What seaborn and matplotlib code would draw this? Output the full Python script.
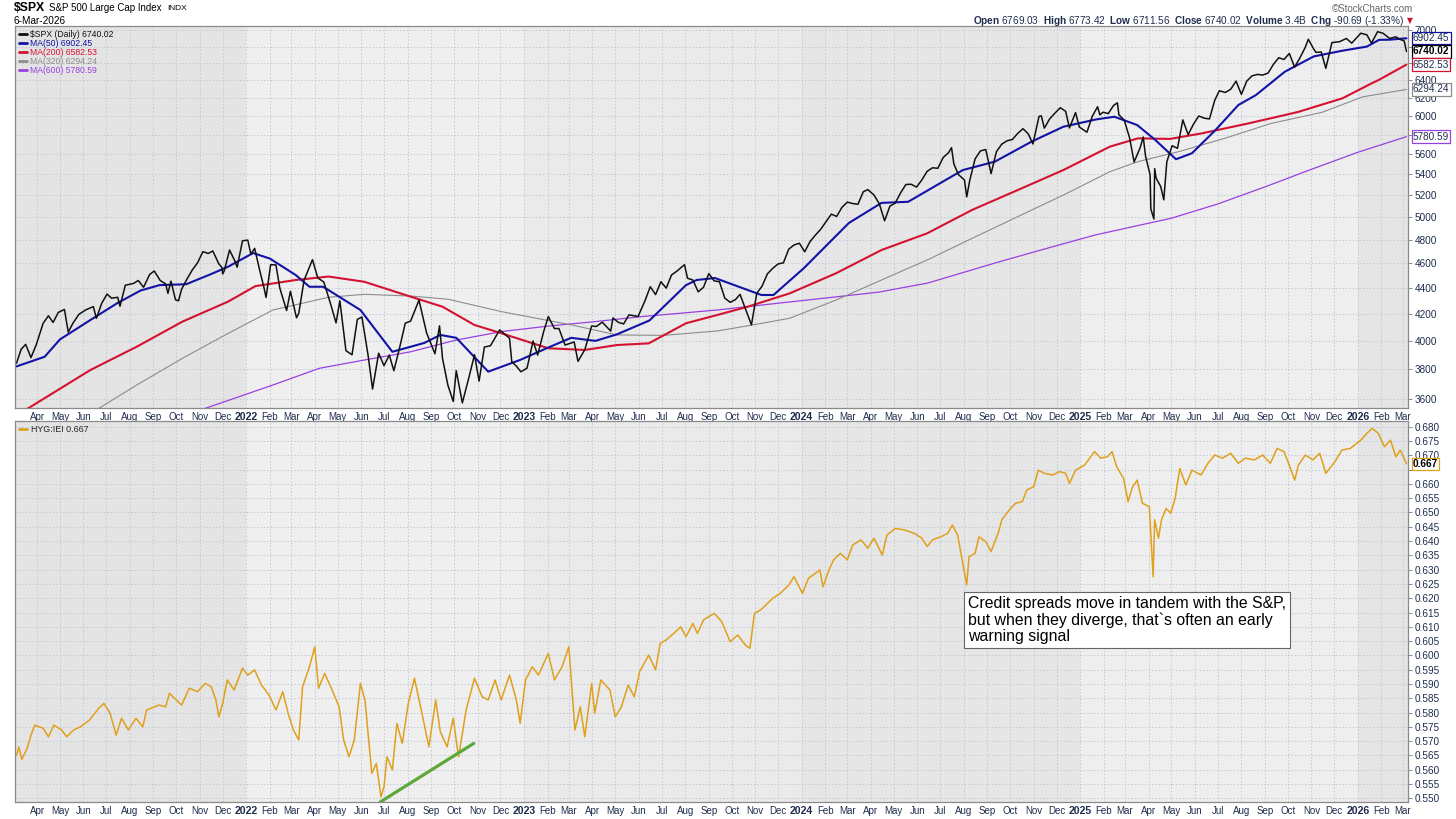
import pandas as pd
import seaborn as sns
import matplotlib.pyplot as plt
from matplotlib.ticker import FixedLocator, NullLocator, FuncFormatter

# ---------------- data ----------------
spx_dates = [
    "2021-03-05", "2021-03-11", "2021-03-17", "2021-03-24", "2021-03-31",
    "2021-04-09", "2021-04-16", "2021-04-22", "2021-04-29",
    "2021-05-07", "2021-05-12", "2021-05-18", "2021-05-26",
    "2021-06-04", "2021-06-14", "2021-06-18", "2021-06-25",
    "2021-07-02", "2021-07-08", "2021-07-16", "2021-07-19", "2021-07-26",
    "2021-08-06", "2021-08-12", "2021-08-19", "2021-08-27",
    "2021-09-02", "2021-09-10", "2021-09-17", "2021-09-20", "2021-09-24", "2021-09-30",
    "2021-10-04", "2021-10-08", "2021-10-15", "2021-10-22", "2021-10-29",
    "2021-11-05", "2021-11-12", "2021-11-18", "2021-11-26", "2021-11-30",
    "2021-12-01", "2021-12-03", "2021-12-10", "2021-12-17", "2021-12-20", "2021-12-27",
    "2022-01-03", "2022-01-07", "2022-01-12", "2022-01-19", "2022-01-24", "2022-01-27",
    "2022-02-02", "2022-02-09", "2022-02-14", "2022-02-23", "2022-02-28",
    "2022-03-08", "2022-03-11", "2022-03-18", "2022-03-29",
    "2022-04-05", "2022-04-13", "2022-04-22", "2022-04-29",
    "2022-05-04", "2022-05-12", "2022-05-20", "2022-05-27",
    "2022-06-02", "2022-06-10", "2022-06-16", "2022-06-24",
    "2022-07-01", "2022-07-08", "2022-07-14", "2022-07-22", "2022-07-29",
    "2022-08-05", "2022-08-16", "2022-08-26",
    "2022-09-06", "2022-09-12", "2022-09-16", "2022-09-23", "2022-09-30",
    "2022-10-04", "2022-10-12", "2022-10-21", "2022-10-28",
    "2022-11-03", "2022-11-10", "2022-11-18", "2022-11-30",
    "2022-12-13", "2022-12-16", "2022-12-22", "2022-12-28",
    "2023-01-05", "2023-01-13", "2023-01-19", "2023-01-27",
    "2023-02-02", "2023-02-10", "2023-02-16", "2023-02-24",
    "2023-03-02", "2023-03-08", "2023-03-13", "2023-03-22", "2023-03-31",
    "2023-04-06", "2023-04-14", "2023-04-25", "2023-04-28",
    "2023-05-05", "2023-05-12", "2023-05-19", "2023-05-31",
    "2023-06-09", "2023-06-16", "2023-06-23", "2023-06-30",
    "2023-07-07", "2023-07-14", "2023-07-21", "2023-07-31",
    "2023-08-04", "2023-08-11", "2023-08-18", "2023-08-25",
    "2023-09-01", "2023-09-08", "2023-09-15", "2023-09-22", "2023-09-29",
    "2023-10-06", "2023-10-12", "2023-10-20", "2023-10-27",
    "2023-11-03", "2023-11-10", "2023-11-17", "2023-11-24",
    "2023-12-01", "2023-12-08", "2023-12-15", "2023-12-22", "2023-12-29",
    "2024-01-05", "2024-01-12", "2024-01-19", "2024-01-26",
    "2024-02-02", "2024-02-09", "2024-02-16", "2024-02-23",
    "2024-03-01", "2024-03-08", "2024-03-15", "2024-03-22", "2024-03-28",
    "2024-04-05", "2024-04-12", "2024-04-19", "2024-04-26",
    "2024-05-03", "2024-05-10", "2024-05-17", "2024-05-24", "2024-05-31",
    "2024-06-07", "2024-06-14", "2024-06-21", "2024-06-28",
    "2024-07-05", "2024-07-12", "2024-07-16", "2024-07-19", "2024-07-25",
    "2024-08-02", "2024-08-05", "2024-08-09", "2024-08-16", "2024-08-23", "2024-08-30",
    "2024-09-06", "2024-09-13", "2024-09-20", "2024-09-27",
    "2024-10-04", "2024-10-11", "2024-10-18", "2024-10-25", "2024-10-31",
    "2024-11-08", "2024-11-11", "2024-11-15", "2024-11-22", "2024-11-29",
    "2024-12-06", "2024-12-13", "2024-12-18", "2024-12-26", "2024-12-31",
    "2025-01-10", "2025-01-17", "2025-01-24", "2025-01-27", "2025-01-31",
    "2025-02-07", "2025-02-14", "2025-02-19", "2025-02-21", "2025-02-28",
    "2025-03-07", "2025-03-13", "2025-03-21", "2025-03-25", "2025-03-28",
    "2025-04-03", "2025-04-04", "2025-04-08", "2025-04-09", "2025-04-11",
    "2025-04-17", "2025-04-21", "2025-04-25",
    "2025-05-02", "2025-05-09", "2025-05-16", "2025-05-23", "2025-05-30",
    "2025-06-06", "2025-06-13", "2025-06-20", "2025-06-27",
    "2025-07-03", "2025-07-11", "2025-07-18", "2025-07-25",
    "2025-08-01", "2025-08-08", "2025-08-15", "2025-08-22", "2025-08-29",
    "2025-09-05", "2025-09-12", "2025-09-19", "2025-09-26",
    "2025-10-03", "2025-10-10", "2025-10-17", "2025-10-24", "2025-10-28",
    "2025-11-04", "2025-11-07", "2025-11-14", "2025-11-20", "2025-11-28",
    "2025-12-08", "2025-12-17", "2025-12-24",
    "2026-01-05", "2026-01-13", "2026-01-19", "2026-01-27",
    "2026-02-03", "2026-02-12", "2026-02-20", "2026-02-27",
    "2026-03-03", "2026-03-06",
]
spx_close = [
    3842, 3939, 3975, 3881, 3973,
    4129, 4185, 4135, 4211,
    4233, 4063, 4128, 4196,
    4230, 4255, 4166, 4281,
    4352, 4320, 4327, 4258, 4422,
    4437, 4460, 4406, 4509,
    4537, 4459, 4433, 4358, 4455, 4307,
    4300, 4391, 4471, 4545, 4605,
    4698, 4683, 4704, 4595, 4567,
    4513, 4538, 4712, 4620, 4568, 4791,
    4797, 4677, 4726, 4533, 4410, 4326,
    4589, 4587, 4401, 4225, 4374,
    4170, 4204, 4463, 4631,
    4481, 4447, 4272, 4132,
    4300, 3930, 3901, 4158,
    4176, 3901, 3667, 3912,
    3825, 3899, 3790, 3962, 4130,
    4145, 4305, 4058,
    3908, 4110, 3873, 3693, 3586,
    3791, 3577, 3752, 3901,
    3720, 3956, 3965, 4080,
    4019, 3852, 3822, 3783,
    3808, 3999, 3899, 4070,
    4179, 4090, 4090, 3970,
    3981, 3992, 3855, 3937, 4109,
    4105, 4137, 4071, 4169,
    4136, 4124, 4192, 4180,
    4299, 4410, 4348, 4450,
    4399, 4505, 4536, 4589,
    4478, 4464, 4370, 4406,
    4516, 4457, 4450, 4320, 4288,
    4309, 4350, 4224, 4117,
    4358, 4415, 4514, 4559,
    4595, 4604, 4719, 4755, 4770,
    4697, 4784, 4840, 4891,
    4959, 5027, 5006, 5089,
    5137, 5124, 5117, 5234, 5254,
    5204, 5123, 4967, 5100,
    5128, 5223, 5303, 5305, 5278,
    5347, 5431, 5465, 5460,
    5567, 5615, 5667, 5505, 5399,
    5346, 5186, 5344, 5554, 5634, 5648,
    5408, 5626, 5703, 5738,
    5751, 5815, 5864, 5808, 5705,
    5996, 6001, 5870, 5969, 6032,
    6090, 6051, 5872, 6037, 5882,
    5827, 5997, 6101, 6012, 6041,
    6026, 6115, 6144, 6013, 5955,
    5770, 5522, 5668, 5777, 5581,
    5397, 5074, 4983, 5457, 5363,
    5283, 5158, 5525,
    5687, 5660, 5958, 5802, 5912,
    6000, 5977, 5968, 6173,
    6279, 6260, 6297, 6389,
    6238, 6389, 6450, 6467, 6460,
    6482, 6584, 6664, 6644,
    6716, 6552, 6664, 6792, 6890,
    6771, 6729, 6734, 6538, 6849,
    6860, 6900, 6842,
    6966, 6945, 6842, 6985,
    6966, 6900, 6920, 6883,
    6870, 6740.02,
]

ma50_dates = ["2021-03-05", "2021-04-11", "2021-05-01", "2021-06-10", "2021-07-15", "2021-08-15",
              "2021-09-09", "2021-10-14", "2021-11-15", "2021-12-08", "2022-01-10", "2022-02-01",
              "2022-03-07", "2022-03-25", "2022-04-12", "2022-05-31", "2022-07-12", "2022-08-23",
              "2022-09-13", "2022-10-04", "2022-11-15", "2022-12-27", "2023-02-01", "2023-03-04",
              "2023-04-05", "2023-05-03", "2023-06-15", "2023-08-02", "2023-08-16", "2023-09-09",
              "2023-11-09", "2023-11-25", "2024-01-04", "2024-03-03", "2024-04-15", "2024-05-20",
              "2024-07-08", "2024-07-31", "2024-09-11", "2024-10-29", "2024-12-10", "2025-01-22",
              "2025-02-15", "2025-03-17", "2025-04-10", "2025-05-07", "2025-05-28", "2025-06-28",
              "2025-07-28", "2025-08-20", "2025-09-27", "2025-11-04", "2025-12-12", "2026-01-13",
              "2026-01-29", "2026-02-12", "2026-03-06"]
ma50_vals = [3820, 3887, 4010, 4153, 4280, 4380,
             4423, 4430, 4510, 4572, 4686, 4640,
             4504, 4410, 4410, 4229, 3922, 3985,
             4043, 4022, 3784, 3865, 3950, 4022,
             4000, 4047, 4150, 4423, 4464, 4480,
             4345, 4345, 4561, 4947, 5130, 5140,
             5345, 5443, 5526, 5728, 5885, 5963,
             5992, 5903, 5745, 5550, 5610, 5850,
             6120, 6230, 6498, 6680, 6750, 6800,
             6883, 6885, 6902.45]

ma200_dates = ["2021-03-05", "2021-03-21", "2021-06-10", "2021-08-10", "2021-10-09", "2021-12-08",
               "2022-01-13", "2022-03-07", "2022-04-19", "2022-06-05", "2022-08-05", "2022-09-16",
               "2022-10-28", "2022-12-03", "2023-02-02", "2023-03-22", "2023-05-03", "2023-06-14",
               "2023-08-02", "2023-09-12", "2023-10-22", "2023-12-16", "2024-02-15", "2024-04-15",
               "2024-06-14", "2024-08-12", "2024-10-11", "2024-12-10", "2025-02-09", "2025-03-18",
               "2025-04-29", "2025-06-10", "2025-08-10", "2025-09-27", "2025-10-15", "2025-12-12",
               "2026-01-19", "2026-01-29", "2026-03-06"]
ma200_vals = [3510, 3544, 3795, 3958, 4141, 4293,
              4415, 4464, 4492, 4450, 4332, 4254,
              4116, 4054, 3947, 3935, 3970, 3982,
              4129, 4191, 4254, 4357, 4518, 4712,
              4856, 5065, 5250, 5443, 5677, 5763,
              5757, 5815, 5920, 6010, 6045, 6195,
              6363, 6405, 6582.53]

ma320_dates = ["2021-05-01", "2021-06-22", "2021-08-10", "2021-10-09", "2021-12-08", "2022-02-05",
               "2022-04-19", "2022-06-05", "2022-08-05", "2022-09-23", "2022-12-03", "2023-03-05",
               "2023-05-03", "2023-07-04", "2023-09-12", "2023-10-22", "2023-12-16", "2024-02-15",
               "2024-04-15", "2024-06-14", "2024-08-12", "2024-10-11", "2024-12-10", "2025-02-09",
               "2025-03-18", "2025-05-11", "2025-07-10", "2025-09-09", "2025-11-15", "2026-01-07",
               "2026-03-06"]
ma320_vals = [3420, 3544, 3694, 3876, 4054, 4229,
              4327, 4350, 4337, 4312, 4216, 4116,
              4043, 4040, 4072, 4110, 4166, 4305,
              4464, 4628, 4812, 5004, 5203, 5426,
              5526, 5627, 5763, 5920, 6040, 6210,
              6294.24]

ma600_dates = ["2021-10-01", "2021-11-13", "2022-02-05", "2022-04-07", "2022-06-05", "2022-08-05",
               "2022-10-04", "2022-12-03", "2023-02-02", "2023-04-04", "2023-06-03", "2023-09-12",
               "2023-12-15", "2024-02-15", "2024-04-12", "2024-06-15", "2024-09-15", "2024-11-15",
               "2025-01-20", "2025-03-15", "2025-05-01", "2025-07-01", "2025-09-01", "2025-11-01",
               "2026-01-01", "2026-03-06"]
ma600_vals = [3480, 3550, 3694, 3807, 3864, 3922,
              4006, 4068, 4108, 4141, 4178, 4229,
              4290, 4330, 4368, 4440, 4610, 4720,
              4840, 4920, 4990, 5120, 5280, 5450,
              5620, 5780.59]

hyg_dates = [
    "2021-03-05", "2021-03-08", "2021-03-12", "2021-03-19", "2021-03-24", "2021-03-29",
    "2021-04-09", "2021-04-16", "2021-04-23", "2021-05-03", "2021-05-10", "2021-05-19",
    "2021-05-28", "2021-06-09", "2021-06-21", "2021-06-28", "2021-07-06", "2021-07-14",
    "2021-07-21", "2021-07-30", "2021-08-09", "2021-08-18", "2021-08-23", "2021-09-08",
    "2021-09-17", "2021-09-22", "2021-10-01", "2021-10-08", "2021-10-18", "2021-10-29",
    "2021-11-08", "2021-11-16", "2021-11-22", "2021-11-26", "2021-12-01", "2021-12-07",
    "2021-12-16", "2021-12-27",
    "2022-01-03", "2022-01-12", "2022-01-21", "2022-01-31", "2022-02-09", "2022-02-18",
    "2022-02-25", "2022-03-04", "2022-03-11", "2022-03-16", "2022-03-25", "2022-04-01",
    "2022-04-06", "2022-04-14", "2022-04-22", "2022-05-03", "2022-05-09", "2022-05-16",
    "2022-05-23", "2022-05-31", "2022-06-06", "2022-06-15", "2022-06-21", "2022-06-27",
    "2022-07-01", "2022-07-05", "2022-07-12", "2022-07-18", "2022-07-25", "2022-08-02",
    "2022-08-10", "2022-08-19", "2022-08-29", "2022-09-07", "2022-09-13", "2022-09-22",
    "2022-09-30", "2022-10-07", "2022-10-17", "2022-10-28", "2022-11-07", "2022-11-15",
    "2022-11-24", "2022-12-02", "2022-12-13", "2022-12-22", "2022-12-27",
    "2023-01-03", "2023-01-12", "2023-01-20", "2023-02-02", "2023-02-10", "2023-02-20",
    "2023-03-01", "2023-03-09", "2023-03-16", "2023-03-22", "2023-03-31", "2023-04-04",
    "2023-04-12", "2023-04-24", "2023-05-01", "2023-05-09", "2023-05-18", "2023-05-26",
    "2023-06-02", "2023-06-14", "2023-06-23", "2023-06-29", "2023-07-07", "2023-07-17",
    "2023-07-26", "2023-08-02", "2023-08-11", "2023-08-17", "2023-08-25", "2023-09-08",
    "2023-09-18", "2023-09-29", "2023-10-09", "2023-10-19", "2023-10-25", "2023-10-31",
    "2023-11-08", "2023-11-15", "2023-11-24", "2023-12-04", "2023-12-15", "2023-12-22",
    "2024-01-02", "2024-01-10", "2024-01-19", "2024-01-25", "2024-01-29", "2024-02-06",
    "2024-02-12", "2024-02-21", "2024-03-01", "2024-03-08", "2024-03-19", "2024-03-28",
    "2024-04-05", "2024-04-16", "2024-04-22", "2024-05-03", "2024-05-15", "2024-05-28",
    "2024-06-07", "2024-06-14", "2024-06-21", "2024-07-02", "2024-07-11", "2024-07-17",
    "2024-07-24", "2024-08-05", "2024-08-08", "2024-08-16", "2024-08-21", "2024-08-30",
    "2024-09-06", "2024-09-16", "2024-09-20", "2024-09-30", "2024-10-08", "2024-10-17",
    "2024-10-23", "2024-11-01", "2024-11-07", "2024-11-15", "2024-11-26", "2024-12-05",
    "2024-12-13", "2024-12-18", "2024-12-26",
    "2025-01-07", "2025-01-20", "2025-01-28", "2025-02-06", "2025-02-12", "2025-02-18",
    "2025-02-27", "2025-03-05", "2025-03-11", "2025-03-17", "2025-03-24", "2025-04-02",
    "2025-04-07", "2025-04-09", "2025-04-14", "2025-04-18", "2025-04-24", "2025-04-30",
    "2025-05-06", "2025-05-12", "2025-05-20", "2025-05-28", "2025-06-09", "2025-06-18",
    "2025-06-27", "2025-07-07", "2025-07-18", "2025-07-28", "2025-08-06", "2025-08-18",
    "2025-08-29", "2025-09-08", "2025-09-17", "2025-09-26", "2025-10-02", "2025-10-10",
    "2025-10-15", "2025-10-24", "2025-11-03", "2025-11-12", "2025-11-20", "2025-12-02",
    "2025-12-11", "2025-12-22",
    "2026-01-05", "2026-01-13", "2026-01-20", "2026-01-28", "2026-02-05", "2026-02-13",
    "2026-02-20", "2026-02-26", "2026-03-06",
]
hyg_vals = [
    0.5651, 0.5680, 0.5636, 0.5675, 0.5721, 0.5756,
    0.5745, 0.5715, 0.5756, 0.5740, 0.5715, 0.5739,
    0.5750, 0.5774, 0.5815, 0.5832, 0.5797, 0.5721,
    0.5780, 0.5739, 0.5780, 0.5750, 0.5809, 0.5826,
    0.5820, 0.5867, 0.5844, 0.5826, 0.5885, 0.5873,
    0.5902, 0.5890, 0.5844, 0.5785, 0.5832, 0.5914,
    0.5879, 0.5955,
    0.5931, 0.5949, 0.5896, 0.5861, 0.5809, 0.5873,
    0.5797, 0.5739, 0.5704, 0.5890, 0.5960, 0.6030,
    0.5885, 0.5937, 0.5890, 0.5820, 0.5704, 0.5645,
    0.5704, 0.5902, 0.5844, 0.5587, 0.5622, 0.5505,
    0.5540, 0.5645, 0.5599, 0.5762, 0.5692, 0.5832,
    0.5920, 0.5809, 0.5680, 0.5844, 0.5733, 0.5680,
    0.5780, 0.5645, 0.5809, 0.5920, 0.5855, 0.5844,
    0.5914, 0.5844, 0.5931, 0.5844, 0.5762,
    0.5914, 0.5960, 0.5931, 0.6007, 0.5914, 0.5960,
    0.6030, 0.5739, 0.5820, 0.5715, 0.5902, 0.5797,
    0.5914, 0.5879, 0.5785, 0.5820, 0.5896, 0.5855,
    0.5943, 0.6001, 0.5949, 0.6042, 0.6054, 0.6077,
    0.6100, 0.6065, 0.6112, 0.6077, 0.6124, 0.6147,
    0.6118, 0.6048, 0.6071, 0.6036, 0.6025, 0.6147,
    0.6159, 0.6176, 0.6200, 0.6217, 0.6246, 0.6275,
    0.6217, 0.6270, 0.6287, 0.6299, 0.6240, 0.6299,
    0.6334, 0.6357, 0.6334, 0.6386, 0.6404, 0.6375,
    0.6410, 0.6351, 0.6421, 0.6444, 0.6439, 0.6427,
    0.6410, 0.6381, 0.6404, 0.6415, 0.6427, 0.6456,
    0.6421, 0.6246, 0.6345, 0.6357, 0.6415, 0.6398,
    0.6363, 0.6433, 0.6474, 0.6509, 0.6532, 0.6538,
    0.6579, 0.6590, 0.6648, 0.6637, 0.6631, 0.6643,
    0.6637, 0.6602, 0.6648,
    0.6666, 0.6713, 0.6690, 0.6695, 0.6713, 0.6660,
    0.6620, 0.6538, 0.6590, 0.6613, 0.6532, 0.6520,
    0.6275, 0.6474, 0.6410, 0.6474, 0.6514, 0.6497,
    0.6550, 0.6654, 0.6596, 0.6648, 0.6631, 0.6672,
    0.6701, 0.6690, 0.6707, 0.6672, 0.6690, 0.6684,
    0.6701, 0.6672, 0.6724, 0.6713, 0.6672, 0.6613,
    0.6666, 0.6701, 0.6684, 0.6707, 0.6637, 0.6678,
    0.6718, 0.6724,
    0.6753, 0.6777, 0.6794, 0.6777, 0.6730, 0.6753,
    0.6695, 0.6718, 0.6670,
]

# green trendline drawn on the ratio panel
trend_dates = ["2022-06-26", "2022-10-27"]
trend_vals = [0.5487, 0.5692]

spx_ticks = [3600, 3800, 4000, 4200, 4400, 4600, 4800, 5000, 5200, 5400, 5600,
             5800, 6000, 6200, 6400, 6600, 6800, 7000]
spx_hidden = [5800, 6600, 6800]          # covered by the value tags in the original
hyg_ticks = [0.550, 0.555, 0.560, 0.565, 0.570, 0.575, 0.580, 0.585, 0.590, 0.595,
             0.600, 0.605, 0.610, 0.615, 0.620, 0.625, 0.630, 0.635, 0.640, 0.645,
             0.650, 0.655, 0.660, 0.665, 0.670, 0.675, 0.680]
hyg_hidden = [0.665]

# ---------------- style ----------------
sns.set_theme(style="white")
plt.rcParams["font.family"] = ["Liberation Sans", "DejaVu Sans"]
plt.rcParams["mathtext.fontset"] = "custom"
plt.rcParams["mathtext.bf"] = "Liberation Sans:bold"
plt.rcParams["mathtext.rm"] = "Liberation Sans"

navy = "#1f2d4d"
c_spx, c_50, c_200, c_320, c_600 = "#111111", "#1212a6", "#d4122f", "#8c8c8c", "#9940e0"
c_hyg, c_trend = "#e0a01c", "#5ea83a"

fig = plt.figure(figsize=(14.56, 8.19), dpi=100)
ax1 = fig.add_axes([15 / 1456, 1 - 408 / 819, 1393 / 1456, 382 / 819])
ax2 = fig.add_axes([15 / 1456, 1 - 802 / 819, 1393 / 1456, 381 / 819], sharex=ax1)

year_bands = [("2021-01-01", "2022-01-01", "#e4e4e4"), ("2022-01-01", "2023-01-01", "#efefef"),
              ("2023-01-01", "2024-01-01", "#eaeaea"), ("2024-01-01", "2025-01-01", "#e6e6e6"),
              ("2025-01-01", "2026-01-01", "#eeeeee"), ("2026-01-01", "2027-01-01", "#e5e5e5")]

for ax in (ax1, ax2):
    for a, b, col in year_bands:
        ax.axvspan(pd.Timestamp(a), pd.Timestamp(b), color=col, lw=0, zorder=0)
    ax.set_axisbelow(True)
    ax.grid(True, color="#c0c9d6", linestyle=(0, (1.5, 2.0)), lw=0.7)
    for s in ax.spines.values():
        s.set_color("#8a8a8a")
        s.set_linewidth(0.9)
    ax.yaxis.tick_right()
    ax.tick_params(axis="y", which="both", direction="out", length=3, width=0.7,
                   color="#8a8a8a", pad=2, labelsize=7.2, labelcolor=navy)
    ax.tick_params(axis="x", length=0, pad=3, labelsize=7, labelcolor=navy)

# ---------------- top panel ----------------
ma_series = [(ma600_dates, ma600_vals, c_600, 0.9), (ma320_dates, ma320_vals, c_320, 0.8),
             (ma200_dates, ma200_vals, c_200, 1.5), (ma50_dates, ma50_vals, c_50, 1.5)]
handles = {}
for d, v, col, lw in ma_series:
    df = pd.DataFrame({"date": pd.to_datetime(d), "value": v})
    sns.lineplot(data=df, x="date", y="value", ax=ax1, color=col, lw=lw, estimator=None)
    handles[col] = ax1.lines[-1]
spx_df = pd.DataFrame({"date": pd.to_datetime(spx_dates), "close": spx_close})
sns.lineplot(data=spx_df, x="date", y="close", ax=ax1, color=c_spx, lw=1.1, estimator=None)
handles[c_spx] = ax1.lines[-1]

ax1.set_yscale("log")
ax1.set_ylim(3544, 7057)
ax1.yaxis.set_major_locator(FixedLocator(spx_ticks))
ax1.yaxis.set_minor_locator(NullLocator())
ax1.yaxis.set_major_formatter(FuncFormatter(lambda v, p: "" if round(v) in spx_hidden else f"{v:.0f}"))
ax1.set_xlabel("")
ax1.set_ylabel("")

leg1 = ax1.legend([handles[c_spx], handles[c_50], handles[c_200], handles[c_320], handles[c_600]],
                  ["$SPX (Daily) 6740.02", "MA(50) 6902.45", "MA(200) 6582.53",
                   "MA(320) 6294.24", "MA(600) 5780.59"],
                  loc="upper left", frameon=False, fontsize=6.2, handlelength=0.9,
                  handletextpad=0.4, labelspacing=0.0, borderpad=0.15, borderaxespad=0.3,
                  labelcolor="linecolor")
for ln in leg1.get_lines():
    ln.set_linewidth(2.0)

# ---------------- bottom panel ----------------
hyg_df = pd.DataFrame({"date": pd.to_datetime(hyg_dates), "ratio": hyg_vals})
sns.lineplot(data=hyg_df, x="date", y="ratio", ax=ax2, color=c_hyg, lw=1.1, estimator=None)
hyg_line = ax2.lines[-1]
trend_df = pd.DataFrame({"date": pd.to_datetime(trend_dates), "ratio": trend_vals})
sns.lineplot(data=trend_df, x="date", y="ratio", ax=ax2, color=c_trend, lw=2.3, estimator=None)

ax2.set_ylim(0.5487, 0.682)
ax2.yaxis.set_major_locator(FixedLocator(hyg_ticks))
ax2.yaxis.set_major_formatter(FuncFormatter(
    lambda v, p: "" if any(abs(v - h) < 1e-6 for h in hyg_hidden) else f"{v:.3f}"))
ax2.set_xlabel("")
ax2.set_ylabel("")
leg2 = ax2.legend([hyg_line], ["HYG:IEI 0.667"], loc="upper left", frameon=False, fontsize=6.4,
                  handlelength=0.9, handletextpad=0.4, borderpad=0.15, borderaxespad=0.3)
for ln in leg2.get_lines():
    ln.set_linewidth(2.0)

ax2.text(0.6842, 0.541, "Credit spreads move in tandem with the S&P,\n"
         "but when they diverge, that`s often an early\nwarning signal",
         transform=ax2.transAxes, ha="left", va="top", fontsize=11.4, color="black",
         linespacing=1.12, zorder=6,
         bbox=dict(boxstyle="square,pad=0.25", fc="white", ec="#666666", lw=0.8))

# ---------------- shared x axis ----------------
month_starts = pd.date_range("2021-04-01", "2026-03-01", freq="MS")
month_labels = [str(d.year) if d.month == 1 else d.strftime("%b") for d in month_starts]
ax1.set_xlim(pd.Timestamp("2021-03-03"), pd.Timestamp("2026-03-08"))
ax1.set_xticks(month_starts)
ax1.set_xticklabels(month_labels)
ax1.tick_params(axis="x", labelbottom=True)
ax2.tick_params(axis="x", labelbottom=True)
for ax in (ax1, ax2):
    for lab in ax.get_xticklabels():
        if lab.get_text().isdigit():
            lab.set_fontweight("bold")
            lab.set_fontsize(7.6)


# ---------------- last-value tags on the right axis ----------------
def tag(ax, value, text, edge, bold=False):
    ax.annotate(text, xy=(1.0, value), xycoords=("axes fraction", "data"),
                xytext=(3.5, 0), textcoords="offset points", ha="left", va="center",
                fontsize=7.2, fontweight="bold" if bold else "normal",
                color="black" if bold else navy, annotation_clip=False, zorder=10,
                bbox=dict(boxstyle="square,pad=0.12", fc="white", ec=edge, lw=0.9))


tag(ax1, 6902.45, "6902.45", c_50)
tag(ax1, 6740.02, "6740.02", "black", bold=True)
tag(ax1, 6582.53, "6582.53", c_200)
tag(ax1, 6294.24, "6294.24", c_320)
tag(ax1, 5780.59, "5780.59", c_600)
tag(ax2, 0.667, "0.667", c_hyg, bold=True)

# ---------------- header ----------------
fig.text(14 / 1456, 1 - 8 / 819, "$SPX", fontsize=8.8, fontweight="bold", va="center", color="black")
fig.text(49 / 1456, 1 - 8 / 819, "S&P 500 Large Cap Index", fontsize=7.0, va="center", color="black")
fig.text(167 / 1456, 1 - 8.5 / 819, "INDX", fontsize=6.0, va="center", color="black")
fig.text(14 / 1456, 1 - 20.5 / 819, "6-Mar-2026", fontsize=7.2, va="center", color="black")
fig.text(1413 / 1456, 1 - 9 / 819, "\u00a9StockCharts.com", fontsize=7, va="center", ha="right",
         color="#666666")
fig.text(1404 / 1456, 1 - 20.5 / 819,
         r"$\mathbf{Open}$ 6769.03  $\mathbf{High}$ 6773.42  $\mathbf{Low}$ 6711.56  "
         r"$\mathbf{Close}$ 6740.02  $\mathbf{Volume}$ 3.4B  $\mathbf{Chg}$ -90.69 (-1.33%)",
         fontsize=7.2, va="center", ha="right", color=navy)
fig.text(1410 / 1456, 1 - 20.5 / 819, "\u25bc", fontsize=5.5, va="center", ha="center",
         color="#c8102e", family=["DejaVu Sans"])

fig.savefig("out.png", dpi=100)
